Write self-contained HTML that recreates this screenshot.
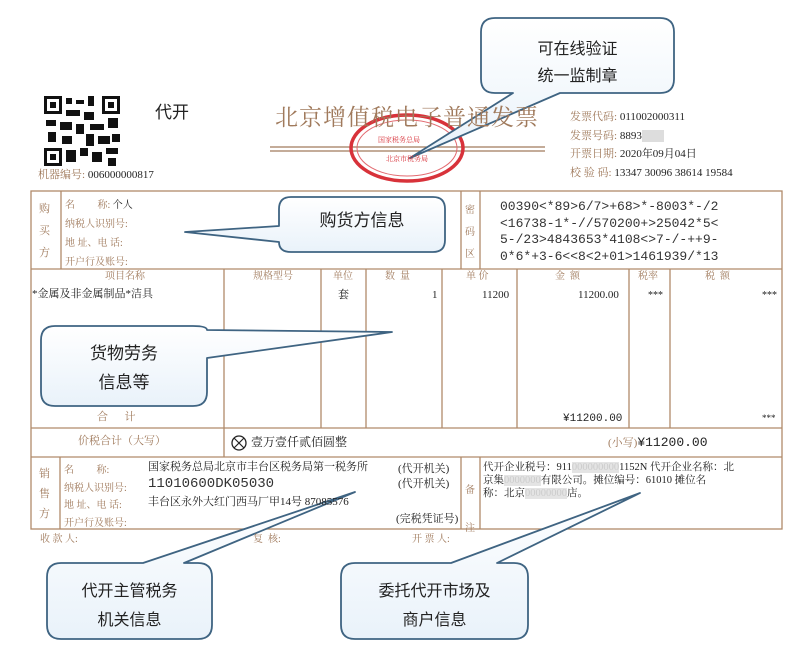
<!DOCTYPE html>
<html><head><meta charset="utf-8"><style>
body{margin:0;width:800px;height:658px;background:#fff;position:relative;overflow:hidden;font-family:"Liberation Serif","Noto Serif CJK SC",serif}
.t{position:absolute;white-space:nowrap;line-height:1}
.l{color:#a07a5c}
.k{color:#222}
.s{font-family:"Liberation Sans","Noto Sans CJK SC",sans-serif}
.m{font-family:"Liberation Mono","Noto Sans CJK SC",monospace}
</style></head><body>
<svg width="800" height="658" style="position:absolute;left:0;top:0">
<defs><linearGradient id="g" x1="0" y1="0" x2="0" y2="1"><stop offset="0" stop-color="#fff"/><stop offset="1" stop-color="#e9f2fa"/></linearGradient></defs>
<rect x="44" y="96" width="76" height="70" fill="#fff"/>
<g fill="#111">
<rect x="44" y="96" width="18" height="18"/><rect x="102" y="96" width="18" height="18"/><rect x="44" y="148" width="18" height="18"/>
<rect x="66" y="98" width="6" height="6"/><rect x="76" y="100" width="8" height="4"/><rect x="88" y="96" width="6" height="10"/><rect x="66" y="110" width="14" height="6"/><rect x="84" y="112" width="10" height="8"/><rect x="46" y="120" width="10" height="6"/><rect x="60" y="122" width="12" height="8"/><rect x="76" y="124" width="8" height="10"/><rect x="90" y="124" width="14" height="6"/><rect x="108" y="118" width="10" height="10"/><rect x="48" y="132" width="8" height="10"/><rect x="62" y="136" width="10" height="8"/><rect x="86" y="134" width="8" height="12"/><rect x="98" y="136" width="12" height="8"/><rect x="112" y="134" width="8" height="8"/><rect x="66" y="150" width="10" height="12"/><rect x="80" y="148" width="8" height="8"/><rect x="92" y="152" width="10" height="10"/><rect x="106" y="148" width="12" height="6"/><rect x="108" y="158" width="8" height="8"/>
</g>
<g fill="#fff"><rect x="47" y="99" width="12" height="12"/><rect x="105" y="99" width="12" height="12"/><rect x="47" y="151" width="12" height="12"/></g>
<g fill="#111"><rect x="50" y="102" width="6" height="6"/><rect x="108" y="102" width="6" height="6"/><rect x="50" y="154" width="6" height="6"/></g>
<line x1="270" y1="147" x2="545" y2="147" stroke="#a07a5c" stroke-width="1.2"/>
<line x1="270" y1="151" x2="545" y2="151" stroke="#a07a5c" stroke-width="1.2"/>
<ellipse cx="407" cy="148" rx="56" ry="33" fill="none" stroke="#d8323a" stroke-width="3.5"/>
<ellipse cx="407" cy="148" rx="50" ry="28" fill="none" stroke="#e26a70" stroke-width="1"/>
<g stroke="#b08a6a" stroke-width="1.3" fill="none">
<rect x="31" y="191" width="751" height="338"/>
<line x1="31" y1="269" x2="782" y2="269"/>
<line x1="31" y1="428" x2="782" y2="428"/>
<line x1="31" y1="457" x2="782" y2="457"/>
<line x1="61" y1="191" x2="61" y2="269"/><line x1="461" y1="191" x2="461" y2="269"/><line x1="480" y1="191" x2="480" y2="269"/>
<line x1="224" y1="269" x2="224" y2="457"/><line x1="321" y1="269" x2="321" y2="428"/><line x1="366" y1="269" x2="366" y2="428"/><line x1="442" y1="269" x2="442" y2="428"/><line x1="517" y1="269" x2="517" y2="428"/><line x1="629" y1="269" x2="629" y2="428"/><line x1="670" y1="269" x2="670" y2="428"/>
<line x1="60" y1="457" x2="60" y2="529"/><line x1="461" y1="457" x2="461" y2="529"/><line x1="480" y1="457" x2="480" y2="529"/>
</g>
<circle cx="239" cy="443" r="7" fill="none" stroke="#222" stroke-width="1.3"/>
<path d="M234 438L244 448M244 438L234 448" stroke="#222" stroke-width="1.2"/>
<g fill="url(#g)" stroke="#3f6482" stroke-width="1.8" stroke-linejoin="round">
<path d="M495 18H660Q674 18 674 32V79Q674 93 660 93H560L410 158L513 93H495Q481 93 481 79V32Q481 18 495 18Z"/>
<path d="M291 197H433Q445 197 445 209V240Q445 252 433 252H291Q279 252 279 242L185 232L279 226V209Q279 197 291 197Z"/>
<path d="M55 326H193Q207 326 207 330L392 332L207 358V392Q207 406 193 406H55Q41 406 41 392V340Q41 326 55 326Z"/>
<path d="M61 563H143L355 492L184 563H198Q212 563 212 577V625Q212 639 198 639H61Q47 639 47 625V577Q47 563 61 563Z"/>
<path d="M355 563H451L640 493L497 563H514Q528 563 528 577V625Q528 639 514 639H355Q341 639 341 625V577Q341 563 355 563Z"/>
</g>
</svg>
<div class="t s k" style="left:155px;top:104px;font-size:17px">代开</div>
<div class="t l" style="left:38px;top:170px;font-size:11px">机器编号: <span class="k">006000000817</span></div>
<div class="t l" style="left:275px;top:106px;font-size:23px;letter-spacing:1px">北京增值税电子普通发票</div>
<div class="t" style="left:378px;top:137px;font-size:7px;color:#d8323a">国家税务总局</div>
<div class="t" style="left:386px;top:156px;font-size:7px;color:#d8323a">北京市税务局</div>
<div class="t l" style="left:570px;top:108px;font-size:11px;line-height:18.5px">发票代码: <span class="k">011002000311</span><br>发票号码: <span class="k">8893</span><span style="background:#ddd;color:#ddd">0000</span><br>开票日期: <span class="k">2020年09月04日</span><br>校 验 码: <span class="k">13347 30096 38614 19584</span></div>
<div class="t l" style="left:39px;top:198px;font-size:11px;line-height:22px">购<br>买<br>方</div>
<div class="t l" style="left:65px;top:196px;font-size:10px;line-height:19px">名&nbsp;&nbsp;&nbsp;&nbsp;&nbsp;&nbsp;&nbsp;&nbsp;&nbsp;称: <span class="k">个人</span><br>纳税人识别号:<br>地 址、电 话:<br>开户行及账号:</div>
<div class="t l" style="left:465px;top:200px;font-size:10px;line-height:22px">密<br>码<br>区</div>
<div class="t m k" style="left:500px;top:199px;font-size:13px;line-height:16.5px;color:#333">00390&lt;*89&gt;6/7&gt;+68&gt;*-8003*-/2<br>&lt;16738-1*-//570200+&gt;25042*5&lt;<br>5-/23&gt;4843653*4108&lt;&gt;7-/-++9-<br>0*6*+3-6&lt;&lt;8&lt;2+01&gt;1461939/*13</div>
<div class="t l" style="left:105px;top:272px;font-size:10px">项目名称</div>
<div class="t l" style="left:253px;top:272px;font-size:10px">规格型号</div>
<div class="t l" style="left:333px;top:272px;font-size:10px">单位</div>
<div class="t l" style="left:385px;top:272px;font-size:10px">数&nbsp;&nbsp;量</div>
<div class="t l" style="left:466px;top:272px;font-size:10px">单 价</div>
<div class="t l" style="left:555px;top:272px;font-size:10px">金&nbsp;&nbsp;额</div>
<div class="t l" style="left:638px;top:272px;font-size:10px">税率</div>
<div class="t l" style="left:705px;top:272px;font-size:10px">税&nbsp;&nbsp;额</div>
<div class="t k" style="left:32px;top:289px;font-size:11px">*金属及非金属制品*洁具</div>
<div class="t k" style="left:338px;top:290px;font-size:11px">套</div>
<div class="t k" style="left:432px;top:290px;font-size:11px">1</div>
<div class="t k" style="left:482px;top:290px;font-size:11px">11200</div>
<div class="t k" style="left:578px;top:290px;font-size:11px">11200.00</div>
<div class="t k" style="left:648px;top:291px;font-size:10px">***</div>
<div class="t k" style="left:762px;top:291px;font-size:10px">***</div>
<div class="t l" style="left:97px;top:412px;font-size:11px">合&nbsp;&nbsp;&nbsp;&nbsp;&nbsp;&nbsp;计</div>
<div class="t m k" style="left:563px;top:414px;font-size:11px">¥11200.00</div>
<div class="t k" style="left:762px;top:414px;font-size:9px">***</div>
<div class="t l" style="left:78px;top:436px;font-size:11px">价税合计（大写）</div>
<div class="t k" style="left:251px;top:436px;font-size:12px">壹万壹仟贰佰圆整</div>
<div class="t l" style="left:608px;top:436px;font-size:11px">(小写)<span class="m k" style="font-size:13px">¥11200.00</span></div>
<div class="t l" style="left:39px;top:464px;font-size:11px;line-height:20px">销<br>售<br>方</div>
<div class="t l" style="left:64px;top:462px;font-size:10px;line-height:17.5px">名&nbsp;&nbsp;&nbsp;&nbsp;&nbsp;&nbsp;&nbsp;&nbsp;&nbsp;称:<br>纳税人识别号:<br>地 址、电 话:<br>开户行及账号:</div>
<div class="t k" style="left:148px;top:462px;font-size:11px">国家税务总局北京市丰台区税务局第一税务所</div>
<div class="t m k" style="left:148px;top:477px;font-size:14px;color:#333">11010600DK05030</div>
<div class="t k" style="left:148px;top:497px;font-size:11px">丰台区永外大红门西马厂甲14号 87085576</div>
<div class="t k" style="left:398px;top:462px;font-size:11px;line-height:15px">(代开机关)<br>(代开机关)</div>
<div class="t k" style="left:396px;top:514px;font-size:11px">(完税凭证号)</div>
<div class="t l" style="left:465px;top:472px;font-size:10px;line-height:38px">备<br>注</div>
<div class="t k" style="left:483px;top:461px;font-size:10.5px;line-height:13px">代开企业税号：911<span style="color:#ccc;background:#e4e4e4">000000000</span>1152N 代开企业名称：北<br>京集<span style="color:#ccc;background:#e4e4e4">0000000</span>有限公司。摊位编号：61010 摊位名<br>称：北京<span style="color:#ccc;background:#e4e4e4">00000000</span>店。</div>
<div class="t l" style="left:40px;top:535px;font-size:10px">收 款 人:</div>
<div class="t l" style="left:253px;top:535px;font-size:10px">复&nbsp;&nbsp;核:</div>
<div class="t l" style="left:412px;top:535px;font-size:10px">开 票 人:</div>
<div class="t s k" style="left:481px;top:36px;width:193px;text-align:center;font-size:16px;line-height:27px;white-space:normal">可在线验证<br>统一监制章</div>
<div class="t s k" style="left:279px;top:212px;width:166px;text-align:center;font-size:17px">购货方信息</div>
<div class="t s k" style="left:41px;top:339px;width:166px;text-align:center;font-size:17px;line-height:29px">货物劳务<br>信息等</div>
<div class="t s k" style="left:47px;top:577px;width:165px;text-align:center;font-size:16px;line-height:29px">代开主管税务<br>机关信息</div>
<div class="t s k" style="left:341px;top:577px;width:187px;text-align:center;font-size:16px;line-height:29px">委托代开市场及<br>商户信息</div>
</body></html>
